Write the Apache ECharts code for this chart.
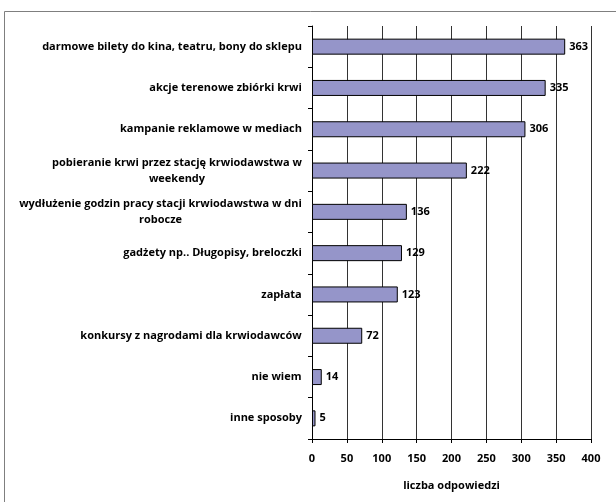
<!DOCTYPE html>
<html>
<head>
<meta charset="utf-8">
<script src="https://cdn.jsdelivr.net/npm/echarts@6/dist/echarts.min.js"></script>
<style>
  html, body { margin: 0; padding: 0; background: #fff; }
  #chart { width: 616px; height: 502px; }
</style>
</head>
<body>
<div id="chart"></div>
<script>
// Sposoby zachęcania do oddawania krwi – liczba odpowiedzi
var categories = [
  ['darmowe bilety do kina, teatru, bony do sklepu'],
  ['akcje terenowe zbiórki krwi'],
  ['kampanie reklamowe w mediach'],
  ['pobieranie krwi przez stację krwiodawstwa w', 'weekendy'],
  ['wydłużenie godzin pracy stacji krwiodawstwa w dni', 'robocze'],
  ['gadżety np.. Długopisy, breloczki'],
  ['zapłata'],
  ['konkursy z nagrodami dla krwiodawców'],
  ['nie wiem'],
  ['inne sposoby']
];
var counts = [363, 335, 306, 222, 136, 129, 123, 72, 14, 5];
var valueTicks = [0, 50, 100, 150, 200, 250, 300, 350, 400];
var axisTitle = 'liczba odpowiedzi';

var FONT_FAMILY = '"Open Sans", sans-serif';
var FONT_SIZE = 11;

// measure label lines so wrapped labels can be centred within their block
var ctx = document.createElement('canvas').getContext('2d');
ctx.font = 'bold ' + FONT_SIZE + 'px ' + FONT_FAMILY;
function textWidth(s) { return Math.ceil(ctx.measureText(s).width); }

var catNames = categories.map(function (lines) { return lines.join('\n'); });
var richStyles = {};
categories.forEach(function (lines, i) {
  var w = Math.max.apply(null, lines.map(textWidth));
  richStyles['c' + i] = {
    width: w, align: 'center', fontSize: FONT_SIZE, fontWeight: 'bold',
    fontFamily: FONT_FAMILY, color: '#000', lineHeight: 16
  };
});

var textBase = { fontFamily: FONT_FAMILY, fontSize: FONT_SIZE, fontWeight: 'bold', color: '#000' };

var chart = echarts.init(document.getElementById('chart'), null, { renderer: 'canvas' });
chart.setOption({
  animation: false,
  backgroundColor: '#fff',
  graphic: [{
    type: 'rect',
    shape: { x: 4.5, y: 11.5, width: 700, height: 600 },
    style: { fill: 'none', stroke: '#7f7f7f', lineWidth: 1 },
    z: -1
  }],
  grid: { left: 312, right: 25, top: 26, bottom: 63, containLabel: false },
  xAxis: {
    type: 'value',
    min: valueTicks[0],
    max: valueTicks[valueTicks.length - 1],
    interval: valueTicks[1] - valueTicks[0],
    name: axisTitle,
    nameLocation: 'middle',
    nameGap: 41,
    nameTextStyle: textBase,
    axisLine: { show: true, lineStyle: { color: '#000', width: 1 } },
    axisTick: { show: true, length: 4, lineStyle: { color: '#000' } },
    axisLabel: Object.assign({ margin: 14 }, textBase),
    splitLine: { show: true, lineStyle: { color: '#333', width: 1 } }
  },
  yAxis: {
    type: 'category',
    inverse: true,
    data: catNames,
    axisLine: { show: true, lineStyle: { color: '#000', width: 1 } },
    axisTick: { show: true, length: 4, alignWithLabel: false, lineStyle: { color: '#000' } },
    axisLabel: {
      margin: 10,
      interval: 0,
      formatter: function (value, idx) {
        return categories[idx].map(function (l) { return '{c' + idx + '|' + l + '}'; }).join('\n');
      },
      rich: richStyles
    },
    splitLine: { show: false }
  },
  series: [{
    type: 'bar',
    data: counts,
    barWidth: 16,
    itemStyle: { color: '#9595c9', borderColor: '#000', borderWidth: 1 },
    label: Object.assign({ show: true, position: 'right', distance: 4 }, textBase)
  }]
});
</script>
</body>
</html>
